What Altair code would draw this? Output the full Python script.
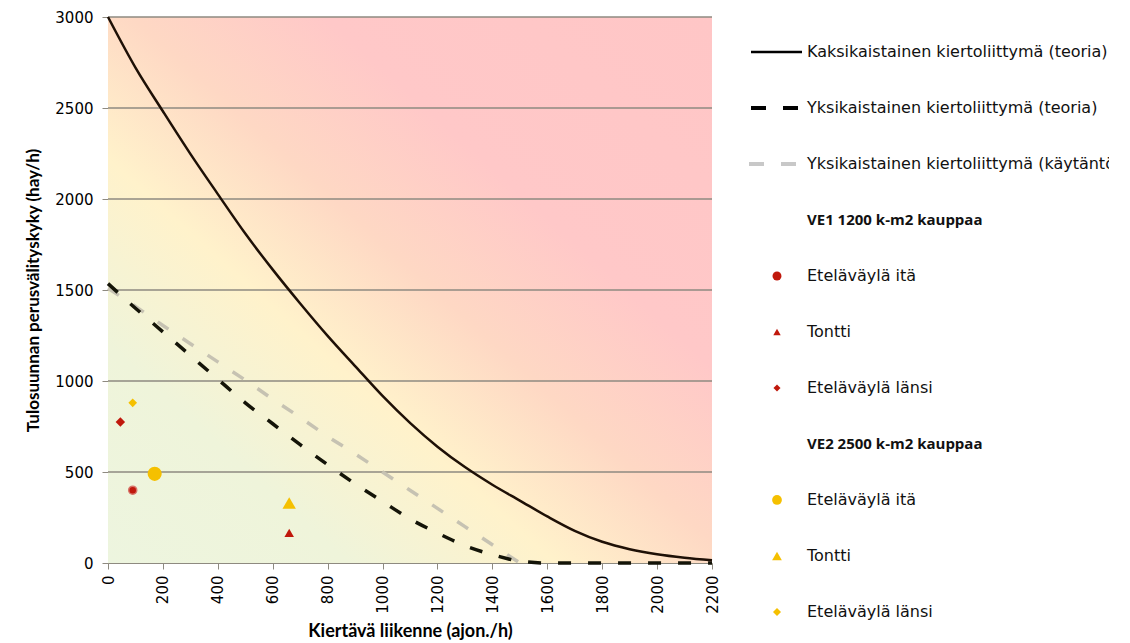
import altair as alt
import pandas as pd

# ---------------- data ----------------
X_TICKS = [0, 200, 400, 600, 800, 1000, 1200, 1400, 1600, 1800, 2000, 2200]
Y_TICKS = [0, 500, 1000, 1500, 2000, 2500, 3000]
X_DOMAIN = [0, 2200]
Y_DOMAIN = [0, 3000]

CURVE_X = [0, 100, 200, 300, 400, 500, 600, 700, 800, 900, 1000, 1100,
           1200, 1300, 1400, 1500, 1600, 1700, 1800, 1900, 2000, 2100, 2200]
TWO_LANE_THEORY = [3000, 2722, 2482, 2248, 2027, 1810, 1612, 1426, 1248, 1082, 918, 770,
                   639, 527, 430, 343, 256, 177, 117, 76, 48, 29, 15]
ONE_LANE_THEORY = [1535, 1400, 1270, 1140, 1010, 880, 765, 650, 540, 435, 338, 242,
                   165, 95, 46, 10, 0, 0, 0, 0, 0, 0, 0]
PRACTICE_X = [0, 100, 200, 300, 400, 500, 600, 700, 800, 900, 1000, 1100, 1200, 1300, 1400, 1500]
ONE_LANE_PRACTICE = [1510, 1410, 1305, 1205, 1105, 1005, 900, 800, 695, 600, 500, 400, 300, 200, 100, 0]

PT_GROUP = ["VE1", "VE1", "VE1", "VE2", "VE2", "VE2"]
PT_PLACE = ["Eteläväylä itä", "Tontti", "Eteläväylä länsi",
            "Eteläväylä itä", "Tontti", "Eteläväylä länsi"]
PT_X = [90, 660, 45, 170, 660, 90]
PT_Y = [400, 165, 775, 490, 330, 880]

LEGEND_LABELS = ["Kaksikaistainen kiertoliittymä (teoria)",
                 "Yksikaistainen kiertoliittymä (teoria)",
                 "Yksikaistainen kiertoliittymä (käytäntö)",
                 "VE1 1200 k-m2 kauppaa",
                 "Eteläväylä itä", "Tontti", "Eteläväylä länsi",
                 "VE2 2500 k-m2 kauppaa",
                 "Eteläväylä itä", "Tontti", "Eteläväylä länsi"]
LEGEND_KIND = ["solid", "dash", "gray", "head", "c1", "t1", "d1", "head", "c2", "t2", "d2"]

# ---------------- styles ----------------
RED = "#c0180c"
YELLOW = "#f5c000"
GRID = "#8e8a80"
FONT = "DejaVu Sans"
TFONT = "Lato"

XS = alt.Scale(domain=X_DOMAIN, nice=False, zero=False)
YS = alt.Scale(domain=Y_DOMAIN, nice=False, zero=False)

curves = pd.DataFrame({"x": CURVE_X, "two": TWO_LANE_THEORY, "one": ONE_LANE_THEORY})
practice = pd.DataFrame({"x": PRACTICE_X, "y": ONE_LANE_PRACTICE})
pts = pd.DataFrame({"g": PT_GROUP, "p": PT_PLACE, "x": PT_X, "y": PT_Y})
bg = pd.DataFrame({"x": [X_DOMAIN[0]], "x2": [X_DOMAIN[1]], "y": [Y_DOMAIN[0]], "y2": [Y_DOMAIN[1]]})
grid = pd.DataFrame({"y": Y_TICKS[1:]})

gradient = {
    "gradient": "linear", "x1": 0, "y1": 1, "x2": 1, "y2": 0,
    "stops": [
        {"offset": 0.0, "color": "#edf5df"},
        {"offset": 0.2, "color": "#eff4da"},
        {"offset": 0.37, "color": "#fff2cb"},
        {"offset": 0.52, "color": "#fed8c4"},
        {"offset": 0.68, "color": "#ffc8c8"},
        {"offset": 1.0, "color": "#ffc6c6"},
    ],
}

x_axis = alt.Axis(values=X_TICKS, format="d", title="Kiertävä liikenne (ajon./h)", labelAngle=270,
                  grid=False, domainColor=GRID, tickColor=GRID, tickSize=6,
                  labelFont=FONT, labelFontSize=15, labelColor="#000", labelPadding=6,
                  titleFont=TFONT, titleFontSize=18, titleFontWeight="bold", titleColor="#000",
                  titlePadding=9)
y_axis = alt.Axis(values=Y_TICKS, format="d", title="Tulosuunnan perusvälityskyky (hay/h)",
                  grid=False, domainColor=GRID, tickColor=GRID, tickSize=6,
                  labelFont=FONT, labelFontSize=15, labelColor="#000", labelPadding=9,
                  titleFont=TFONT, titleFontSize=17, titleFontWeight="bold", titleColor="#000",
                  titlePadding=12)

background = alt.Chart(bg).mark_rect(fill=gradient).encode(
    x=alt.X("x:Q", scale=XS, axis=x_axis), x2="x2:Q",
    y=alt.Y("y:Q", scale=YS, axis=y_axis), y2="y2:Q")

gridlines = alt.Chart(grid).mark_rule(color=GRID, strokeWidth=1.5).encode(
    y=alt.Y("y:Q", scale=YS), x=alt.value(0), x2=alt.value(604))

two = alt.Chart(curves).mark_line(color="#1e1006", strokeWidth=2.5, interpolate="monotone").encode(
    x=alt.X("x:Q", scale=XS), y=alt.Y("two:Q", scale=YS))
prac = alt.Chart(practice).mark_line(color="#c6c2b2", strokeWidth=3.5, strokeDash=[13, 17],
                                     strokeCap="butt").encode(
    x=alt.X("x:Q", scale=XS), y=alt.Y("y:Q", scale=YS))
one = alt.Chart(curves).mark_line(color="#141408", strokeWidth=3.5, strokeDash=[13, 17],
                                  strokeCap="butt", interpolate="monotone").encode(
    x=alt.X("x:Q", scale=XS), y=alt.Y("one:Q", scale=YS))

def pt(group, place, shape, color, size, stroke=None):
    kw = dict(shape=shape, color=color, fill=color, size=size, opacity=1, filled=True)
    if stroke:
        kw.update(stroke=stroke, strokeWidth=1.5)
    return alt.Chart(pts).transform_filter(
        (alt.datum.g == group) & (alt.datum.p == place)
    ).mark_point(**kw).encode(x=alt.X("x:Q", scale=XS), y=alt.Y("y:Q", scale=YS))

points = [
    pt("VE1", "Eteläväylä itä", "circle", RED, 65, stroke="#d8756a"),
    pt("VE1", "Tontti", "triangle-up", RED, 90),
    pt("VE1", "Eteläväylä länsi", "diamond", RED, 90),
    pt("VE2", "Eteläväylä itä", "circle", YELLOW, 200),
    pt("VE2", "Tontti", "triangle-up", YELLOW, 180),
    pt("VE2", "Eteläväylä länsi", "diamond", YELLOW, 75),
]

main = alt.layer(background, gridlines, prac, one, two, *points).properties(width=604, height=546)

# ---------------- legend panel ----------------
leg = pd.DataFrame({"row": list(range(len(LEGEND_LABELS))), "label": LEGEND_LABELS, "kind": LEGEND_KIND})
LS = alt.Scale(domain=[-0.625, 10.268], reverse=True, nice=False, zero=False)
LW = 377

def leg_base(kinds):
    return alt.Chart(leg).transform_filter(alt.FieldOneOfPredicate(field="kind", oneOf=kinds))

ly = alt.Y("row:Q", scale=LS, axis=None)
l_solid = leg_base(["solid"]).mark_rule(color="#000", strokeWidth=2.5).encode(
    y=ly, x=alt.value(19), x2=alt.value(70))
l_dash = leg_base(["dash"]).mark_rule(color="#000", strokeWidth=4, strokeDash=[15, 17]).encode(
    y=ly, x=alt.value(19), x2=alt.value(68))
l_gray = leg_base(["gray"]).mark_rule(color="#c8c8c8", strokeWidth=4, strokeDash=[15, 17]).encode(
    y=ly, x=alt.value(17), x2=alt.value(66))

def leg_pt(kind, shape, color, size):
    return leg_base([kind]).mark_point(shape=shape, fill=color, color=color, filled=True,
                                       opacity=1, size=size).encode(y=ly, x=alt.value(45))

l_pts = [leg_pt("c1", "circle", RED, 80), leg_pt("t1", "triangle-up", RED, 55),
         leg_pt("d1", "diamond", RED, 50), leg_pt("c2", "circle", YELLOW, 95),
         leg_pt("t2", "triangle-up", YELLOW, 95), leg_pt("d2", "diamond", YELLOW, 65)]

l_text = leg_base(["solid", "dash", "gray", "c1", "t1", "d1", "c2", "t2", "d2"]).mark_text(
    align="left", baseline="middle", font=FONT, fontSize=16, color="#111", clip=True).encode(
    y=ly, x=alt.value(75), text="label:N")
l_head = leg_base(["head"]).mark_text(
    align="left", baseline="middle", font="Open Sans", fontSize=15, fontWeight="bold", color="#111",
    clip=True).encode(y=ly, x=alt.value(75), text="label:N")

legend = alt.layer(l_solid, l_dash, l_gray, *l_pts, l_text, l_head).properties(width=LW, height=610)

chart = alt.hconcat(main, legend, spacing=20, bounds="flush").properties(
    padding={"left": 16, "top": 2, "right": 0, "bottom": 0},
    background="white",
).configure_view(strokeWidth=0, stroke="transparent")

chart.save("out.html", embed_options={"renderer": "svg", "actions": False})
